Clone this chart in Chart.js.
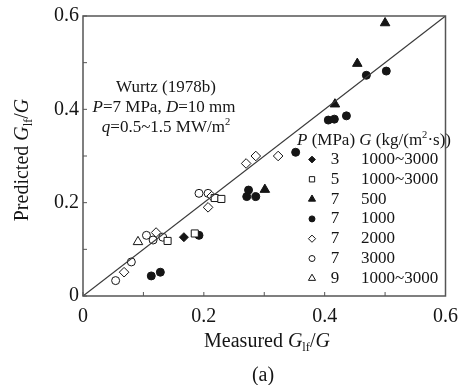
<!DOCTYPE html>
<html>
<head>
<meta charset="utf-8">
<script src="https://cdn.jsdelivr.net/npm/chart.js@4.4.1/dist/chart.umd.min.js"></script>
<style>
  html, body { margin: 0; padding: 0; background: #fff; }
  canvas { display: block; }
</style>
</head>
<body>
<canvas id="chart" width="467" height="385"></canvas>
<script>
// groupes de mesures : pression (MPa) et debit massique G (kg/(m2.s))
const pressions = ['3', '5', '7', '7', '7', '7', '9'];
const debits = ['1000~3000', '1000~3000', '500', '1000', '2000', '3000', '1000~3000'];

// G_lf/G mesure (x) et predit (y) pour chaque groupe
const mesP3 = [0.167];
const predP3 = [0.126];
const mesP5 = [0.140, 0.185, 0.218, 0.229];
const predP5 = [0.118, 0.134, 0.210, 0.208];
const mesG500 = [0.301, 0.417, 0.454, 0.500];
const predG500 = [0.228, 0.411, 0.498, 0.585];
const mesG1000 = [0.113, 0.128, 0.192, 0.271, 0.274, 0.286, 0.352, 0.406, 0.416, 0.436, 0.469, 0.502];
const predG1000 = [0.043, 0.051, 0.130, 0.213, 0.227, 0.213, 0.308, 0.377, 0.379, 0.386, 0.473, 0.482];
const mesG2000 = [0.068, 0.121, 0.207, 0.213, 0.270, 0.286, 0.323];
const predG2000 = [0.051, 0.136, 0.190, 0.214, 0.284, 0.300, 0.300];
const mesG3000 = [0.054, 0.080, 0.105, 0.116, 0.132, 0.192, 0.207];
const predG3000 = [0.033, 0.073, 0.130, 0.120, 0.126, 0.220, 0.220];
const mesP9 = [0.091];
const predP9 = [0.116];

// droite y = x
const diagX = [0, 0.6];
const diagY = [0, 0.6];

const xTicks = [0, 0.2, 0.4, 0.6];
const yTicks = [0, 0.2, 0.4, 0.6];

const SERIF = '"Liberation Serif", "DejaVu Serif", serif';
const NOIR = '#151515';

function points(xs, ys) {
    return xs.map((x, i) => ({ x: x, y: ys[i] }));
}

const styles = [
    { forme: 'rectRot', plein: true, r: 4.5 },
    { forme: 'rect', plein: false, r: 5 },
    { forme: 'triangle', plein: true, r: 5.5 },
    { forme: 'circle', plein: true, r: 4 },
    { forme: 'rectRot', plein: false, r: 4.8 },
    { forme: 'circle', plein: false, r: 4 },
    { forme: 'triangle', plein: false, r: 5.5 }
];
const series = [
    [mesP3, predP3], [mesP5, predP5], [mesG500, predG500], [mesG1000, predG1000],
    [mesG2000, predG2000], [mesG3000, predG3000], [mesP9, predP9]
];

const datasets = series.map((s, i) => ({
    label: pressions[i] + ' ' + debits[i],
    data: points(s[0], s[1]),
    pointStyle: styles[i].forme,
    pointRadius: styles[i].r,
    pointHoverRadius: styles[i].r,
    pointBackgroundColor: styles[i].plein ? NOIR : '#fff',
    pointBorderColor: NOIR,
    pointBorderWidth: 1,
    showLine: false,
    clip: false
}));
datasets.unshift({
    label: 'y=x',
    data: points(diagX, diagY),
    showLine: true,
    borderColor: '#3a3a3a',
    borderWidth: 1.2,
    pointRadius: 0,
    fill: false
});

// texte en segments : { t, it (italique), sub, sup }
function segments(ctx, segs, taille) {
    let w = 0;
    segs.forEach(s => {
        const tt = (s.sub || s.sup) ? taille * 0.62 : taille;
        ctx.font = (s.it ? 'italic ' : '') + tt + 'px ' + SERIF;
        s._w = ctx.measureText(s.t).width;
        s._f = ctx.font;
        w += s._w;
    });
    return w;
}
function ecrire(ctx, segs, x, y, taille, align) {
    const w = segments(ctx, segs, taille);
    let cx = align === 'left' ? x : x - w / 2;
    ctx.textBaseline = 'middle';
    ctx.textAlign = 'left';
    segs.forEach(s => {
        ctx.font = s._f;
        let dy = 0;
        if (s.sub) dy = taille * 0.3;
        if (s.sup) dy = -taille * 0.35;
        ctx.fillText(s.t, cx, y + dy);
        cx += s._w;
    });
}

function marqueur(ctx, forme, plein, r, x, y) {
    ctx.beginPath();
    if (forme === 'circle') {
        ctx.arc(x, y, r, 0, Math.PI * 2);
    } else if (forme === 'rect') {
        const s = r * Math.SQRT1_2;
        ctx.rect(x - s, y - s, 2 * s, 2 * s);
    } else if (forme === 'rectRot') {
        ctx.moveTo(x, y - r); ctx.lineTo(x + r, y); ctx.lineTo(x, y + r); ctx.lineTo(x - r, y);
        ctx.closePath();
    } else if (forme === 'triangle') {
        for (let k = 0; k < 3; k++) {
            const a = k * 2 * Math.PI / 3;
            const px = x + Math.sin(a) * r, py = y - Math.cos(a) * r;
            if (k === 0) ctx.moveTo(px, py); else ctx.lineTo(px, py);
        }
        ctx.closePath();
    }
    ctx.fillStyle = plein ? NOIR : '#fff';
    ctx.fill();
    ctx.strokeStyle = NOIR;
    ctx.lineWidth = 1;
    ctx.stroke();
}

const habillage = {
    id: 'habillage',
    afterDraw(chart) {
        const ctx = chart.ctx;
        const a = chart.chartArea;
        const sx = chart.scales.x, sy = chart.scales.y;
        ctx.save();

        // cadre
        ctx.strokeStyle = '#555';
        ctx.lineWidth = 1.5;
        ctx.strokeRect(a.left, a.top, a.right - a.left, a.bottom - a.top);

        // graduations vers l'interieur
        ctx.lineWidth = 1;
        sx.ticks.forEach(t => {
            const px = sx.getPixelForValue(t.value);
            ctx.beginPath(); ctx.moveTo(px, a.bottom); ctx.lineTo(px, a.bottom - 4); ctx.stroke();
        });
        sy.ticks.forEach(t => {
            const py = sy.getPixelForValue(t.value);
            ctx.beginPath(); ctx.moveTo(a.left, py); ctx.lineTo(a.left + 4, py); ctx.stroke();
        });

        ctx.fillStyle = NOIR;

        // titres des axes
        ecrire(ctx, [{ t: 'Measured ' }, { t: 'G', it: true }, { t: 'lf', sub: true }, { t: '/' }, { t: 'G', it: true }],
            267, 342, 20);
        ecrire(ctx, [{ t: '(a)' }], 263, 376, 20);
        ctx.save();
        ctx.translate(23, 160);
        ctx.rotate(-Math.PI / 2);
        ecrire(ctx, [{ t: 'Predicted ' }, { t: 'G', it: true }, { t: 'lf', sub: true }, { t: '/' }, { t: 'G', it: true }],
            0, 0, 20);
        ctx.restore();

        // conditions de l'essai
        ecrire(ctx, [{ t: 'Wurtz (1978b)' }], 166, 88, 17);
        ecrire(ctx, [{ t: 'P', it: true }, { t: '=7 MPa, ' }, { t: 'D', it: true }, { t: '=10 mm' }], 164, 108, 17);
        ecrire(ctx, [{ t: 'q', it: true }, { t: '=0.5~1.5 MW/m' }, { t: '2', sup: true }], 166, 128, 17);

        // legende
        ecrire(ctx, [{ t: 'P', it: true }, { t: ' (MPa) ' }, { t: 'G', it: true }, { t: ' (kg/(m' }, { t: '2', sup: true }, { t: '·s))' }],
            297, 141, 17, 'left');
        pressions.forEach((p, i) => {
            const y = 159.5 + i * 19.8;
            const st = styles[i];
            marqueur(ctx, st.forme, st.plein, st.r * 0.75, 312, y);
            ctx.fillStyle = NOIR;
            ecrire(ctx, [{ t: p }], 335, y, 17);
            ecrire(ctx, [{ t: debits[i] }], 361, y, 17, 'left');
        });
        ctx.restore();
    }
};

function etiquette(v) {
    const r = Math.round(v * 10) / 10;
    const ok = xTicks.some(t => Math.abs(t - r) < 1e-6);
    if (!ok) return '';
    return r === 0 ? '0' : r.toFixed(1);
}

new Chart(document.getElementById('chart'), {
    type: 'scatter',
    data: { datasets: datasets },
    plugins: [habillage],
    options: {
        responsive: false,
        animation: false,
        devicePixelRatio: 1,
        layout: { padding: { top: 16, right: 18, left: 0, bottom: 0 } },
        plugins: { legend: { display: false }, tooltip: { enabled: false } },
        scales: {
            x: {
                type: 'linear', min: 0, max: 0.6,
                afterFit: s => { s.height = 89; },
                grid: { drawOnChartArea: false, drawTicks: false },
                border: { display: false },
                ticks: {
                    stepSize: 0.1, padding: 9, color: NOIR,
                    font: { family: SERIF, size: 20 },
                    maxRotation: 0, autoSkip: false,
                    callback: etiquette
                }
            },
            y: {
                type: 'linear', min: 0, max: 0.6,
                afterFit: s => { s.width = 83; },
                grid: { drawOnChartArea: false, drawTicks: false },
                border: { display: false },
                ticks: {
                    stepSize: 0.1, padding: 4, color: NOIR,
                    font: { family: SERIF, size: 20 },
                    autoSkip: false,
                    callback: v => {
                        const r = Math.round(v * 10) / 10;
                        if (!yTicks.some(t => Math.abs(t - r) < 1e-6)) return '';
                        return r === 0 ? '0' : r.toFixed(1);
                    }
                }
            }
        }
    }
});
</script>
</body>
</html>
